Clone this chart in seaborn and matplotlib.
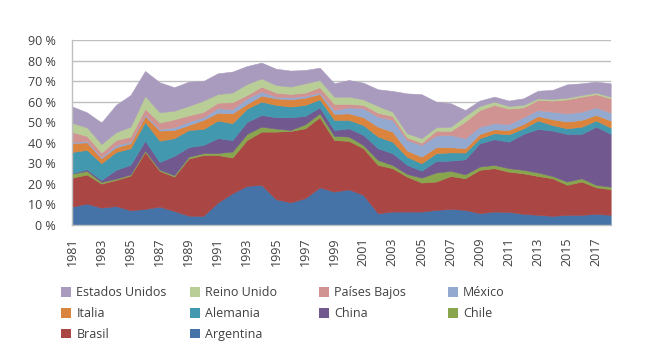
import seaborn as sns
import matplotlib.pyplot as plt
from matplotlib.patches import Patch
from matplotlib.ticker import MultipleLocator, FuncFormatter

years = list(range(1981, 2019))

# share of each country (%), bottom to top of the stack
argentina = [8.9, 10.4, 8.4, 9.2, 7.1, 7.8, 8.9, 6.8, 4.5, 4.4, 10.9, 15.4, 19.0, 19.5, 12.5, 11.0, 13.0, 18.3, 16.2,
             17.3, 14.6, 5.7, 6.5, 6.5, 6.5, 7.3, 7.8, 7.3, 5.7, 6.5, 6.3, 5.4, 4.9, 4.4, 4.9, 4.9, 5.4, 4.9]
brasil = [14.1, 14.1, 11.7, 12.7, 16.9, 27.7, 17.4, 16.7, 27.8, 29.6, 23.1, 17.4, 22.3, 25.9, 32.9, 34.7, 34.0, 34.1,
          25.1, 23.6, 22.7, 23.5, 21.1, 17.0, 14.1, 13.8, 16.0, 15.4, 21.1, 21.1, 19.6, 19.7, 18.9, 18.3, 14.6, 16.2,
          12.9, 12.5]
chile = [2.0, 1.8, 0.8, 0.6, 0.6, 0.7, 0.6, 0.7, 0.9, 0.9, 1.0, 2.9, 3.0, 2.4, 1.5, 0.5, 2.0, 1.9, 2.0, 2.1, 1.6, 2.4,
         1.6, 1.3, 2.4, 4.4, 2.5, 1.9, 1.6, 1.6, 1.7, 1.7, 1.7, 1.1, 1.6, 1.6, 1.2, 1.2]
china = [0.2, 0.8, 1.0, 4.3, 4.7, 4.8, 3.7, 9.4, 4.7, 4.0, 7.2, 5.6, 5.8, 5.7, 5.5, 6.2, 4.0, 2.9, 2.9, 4.0, 4.9, 5.7,
         5.7, 4.4, 3.4, 5.6, 5.0, 7.3, 11.3, 12.5, 12.9, 17.5, 21.2, 22.1, 23.2, 21.6, 28.3, 25.7]
alemania = [10.3, 9.4, 8.1, 8.7, 8.0, 9.1, 10.4, 8.6, 8.3, 7.8, 8.6, 8.2, 6.5, 6.5, 6.0, 5.2, 5.4, 3.9, 4.9, 4.1, 4.8,
            5.7, 5.6, 4.0, 3.6, 3.8, 4.0, 3.3, 2.5, 2.9, 3.6, 2.7, 4.1, 2.7, 2.7, 3.5, 3.0, 3.0]
italia = [4.2, 3.7, 2.4, 2.3, 2.4, 2.9, 4.9, 4.0, 2.4, 4.4, 3.8, 4.8, 2.3, 2.9, 3.2, 3.5, 3.5, 2.6, 2.9, 3.2, 3.8, 4.8,
          4.9, 3.0, 3.2, 2.9, 2.5, 2.1, 2.1, 1.9, 2.1, 2.1, 2.2, 2.8, 3.3, 3.3, 2.7, 3.5]
mexico = [0.5, 0.7, 0.7, 1.1, 0.8, 0.7, 0.8, 1.3, 1.7, 1.3, 2.2, 2.0, 2.7, 2.0, 0.8, 1.0, 0.9, 0.8, 1.9, 2.9, 4.4, 4.9,
          5.7, 5.1, 5.7, 5.7, 6.0, 4.9, 3.5, 3.0, 2.9, 3.3, 2.9, 3.7, 4.0, 4.0, 3.7, 3.8]
paises_bajos = [5.0, 2.4, 2.1, 2.4, 2.5, 2.9, 3.1, 3.9, 3.0, 2.6, 2.7, 3.4, 1.6, 2.4, 2.0, 1.6, 1.6, 2.5, 3.0, 1.7, 1.6,
                1.9, 1.9, 1.3, 1.1, 2.4, 1.9, 8.1, 8.1, 8.9, 7.5, 4.8, 4.9, 5.4, 6.8, 7.3, 6.4, 7.0]
reino_unido = [4.4, 4.2, 4.2, 3.8, 4.8, 6.2, 5.0, 4.2, 4.6, 5.5, 4.2, 4.7, 5.4, 4.0, 3.7, 3.6, 4.5, 3.5, 3.5, 3.5, 2.7,
               3.3, 2.1, 2.0, 2.2, 1.6, 2.1, 2.7, 2.0, 1.6, 1.3, 1.2, 0.8, 0.8, 0.8, 0.8, 0.8, 0.8]
estados_unidos = [8.0, 7.3, 10.4, 13.3, 15.4, 12.1, 14.6, 11.4, 11.8, 9.5, 10.1, 10.2, 8.7, 7.7, 7.9, 7.8, 6.5, 6.0, 6.5,
                  8.1, 8.1, 8.1, 10.1, 19.4, 21.4, 12.5, 11.4, 2.9, 2.6, 2.4, 2.6, 3.2, 3.7, 4.4, 6.5, 5.7, 5.3, 6.5]

names = ['Argentina', 'Brasil', 'Chile', 'China', 'Alemania', 'Italia', 'México', 'Países Bajos', 'Reino Unido',
         'Estados Unidos']
series = [argentina, brasil, chile, china, alemania, italia, mexico, paises_bajos, reino_unido, estados_unidos]
colors = ['#4572A7', '#AA4643', '#89A54E', '#71588F', '#4198AF', '#DB843D', '#93A9CF', '#D19392', '#B9CD96',
          '#A99BBD']

sns.set_theme(style="white")
plt.rcParams['font.family'] = ['Open Sans', 'DejaVu Sans']

fig = plt.figure(figsize=(6.53, 3.57), dpi=100)
ax = fig.add_axes([0.1107, 0.370, 0.8245, 0.518])

polys = ax.stackplot(years, *series, colors=colors, linewidth=0.4)
for p, c in zip(polys, colors):
    p.set_edgecolor(c)

ax.set_xlim(1981, 2018)
ax.set_ylim(0, 90)
ax.yaxis.set_major_locator(MultipleLocator(10))
ax.yaxis.set_major_formatter(FuncFormatter(lambda v, pos: f"{v:.0f} %"))
ax.set_xticks(years)
ax.set_xticklabels([str(y) if (y - 1981) % 2 == 0 else '' for y in years], rotation=90)

ax.set_axisbelow(True)
ax.grid(axis='y', color='#BFBFBF', linewidth=1)
for side in ['top', 'right']:
    ax.spines[side].set_visible(False)
for side in ['left', 'bottom']:
    ax.spines[side].set_color('#BFBFBF')
    ax.spines[side].set_linewidth(1)
ax.tick_params(axis='both', direction='out', length=4, width=1, color='#BFBFBF', labelcolor='#404040',
               labelsize=9)
ax.tick_params(axis='y', pad=8)
ax.tick_params(axis='x', pad=5)

# legend laid out row by row in four columns, like the original
handles = {n: Patch(facecolor=c, edgecolor='none') for n, c in zip(names, colors)}
columns = [['Estados Unidos', 'Italia', 'Brasil'],
           ['Reino Unido', 'Alemania', 'Argentina'],
           ['Países Bajos', 'China'],
           ['México', 'Chile']]
col_x = [0.094, 0.291, 0.489, 0.686]
for x, col in zip(col_x, columns):
    fig.legend([handles[n] for n in col], col, loc='upper left', bbox_to_anchor=(x, 0.198), frameon=False,
               fontsize=9, handlelength=0.8, handleheight=0.8, handletextpad=0.4, labelspacing=0.62,
               borderpad=0, borderaxespad=0, labelcolor='#404040')

fig.savefig('out.png', dpi=100)
